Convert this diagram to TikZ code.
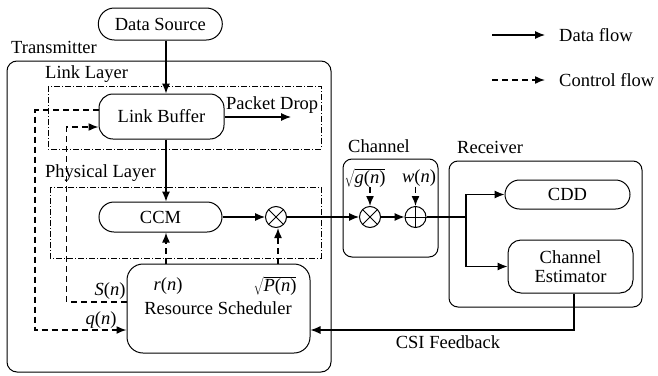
\documentclass[tikz,border=0pt]{standalone}
\usepackage{fontspec}
\setmainfont{LiberationSerif}[Extension=.ttf,UprightFont=*-Regular,ItalicFont=*-Italic,BoldFont=*-Bold,BoldItalicFont=*-BoldItalic]
\usetikzlibrary{arrows.meta,shapes.misc,calc}

\tikzset{
  flow/.style={line width=1.1pt,-{Latex[length=10pt,width=8pt]}},
  ctrl/.style={line width=1.5pt,dash pattern=on 6pt off 4pt,-{Latex[length=10pt,width=8pt]}},
  pill/.style={draw,line width=1pt,rounded rectangle,inner sep=0pt},
  rbox/.style={draw,line width=1pt,rounded corners=14pt,inner sep=0pt,align=center},
  opcirc/.style={draw,line width=1pt,circle,minimum size=21pt,inner sep=0pt},
  frame/.style={draw,line width=1pt,rounded corners=10pt},
  layer/.style={draw,line width=0.7pt,dash pattern=on 6pt off 2pt on 1pt off 2pt},
  lbl/.style={inner sep=0pt},
}

\begin{document}
\begin{tikzpicture}[x=1pt,y=-1pt,font=\fontsize{18.5}{21}\selectfont]
\useasboundingbox (0,0) rectangle (658,375);

% enclosing frames
\draw[frame] (7,61) rectangle (331,372);
\draw[frame,rounded corners=9pt] (343,159) rectangle (438,257);
\draw[frame,rounded corners=9pt] (449,161) rectangle (642,307);
\draw[layer] (48,86) rectangle (321,149);
\draw[layer] (50,187) rectangle (321,258);

% frame titles
\node[lbl,anchor=west] (ttx) at (11,47) {Transmitter};
\node[lbl,anchor=west] (tll) at (45,74) {Link Layer};
\node[lbl,anchor=west] (tpl) at (45,173) {Physical Layer};
\node[lbl,anchor=west] (tch) at (348,146) {Channel};
\node[lbl,anchor=west] (trx) at (457,147) {Receiver};

% blocks
\node[pill,minimum width=124pt,minimum height=32pt] (ds) at (160.3,24) {Data Source};
\node[rbox,minimum width=125pt,minimum height=45pt] (lb) at (161.5,116.5) {Link Buffer};
\node[pill,minimum width=123pt,minimum height=30pt] (ccm) at (160.5,217) {CCM};
\node[opcirc] (mul) at (276,217) {};
\draw[line width=0.8pt] ($(mul)+(-7.4,-7.4)$) -- ($(mul)+(7.4,7.4)$) ($(mul)+(-7.4,7.4)$) -- ($(mul)+(7.4,-7.4)$);
\node[rbox,rounded corners=16pt,minimum width=183pt,minimum height=89pt] (rs) at (218.5,308.5) {};
\node[lbl] (rst) at (218,308) {Resource Scheduler};
\node[lbl] (rn) at (168,286) {\textit{r}(\textit{n})};
\node[lbl] (pn) at (275,286) {$\sqrt{\mbox{\textit{P}(\textit{n})}}$};
\node[lbl] (sn) at (110,291) {\textit{S}(\textit{n})};
\node[lbl] (qn) at (101,320) {\textit{q}(\textit{n})};

% channel
\node[opcirc] (chmul) at (370,217) {};
\draw[line width=0.8pt] ($(chmul)+(-7.4,-7.4)$) -- ($(chmul)+(7.4,7.4)$) ($(chmul)+(-7.4,7.4)$) -- ($(chmul)+(7.4,-7.4)$);
\node[opcirc] (chadd) at (415.5,217) {};
\draw[line width=0.8pt] (chadd.north) -- (chadd.south) (chadd.west) -- (chadd.east);
\node[lbl] (gn) at (365,178) {$\sqrt{\mbox{\textit{g}(\textit{n})}}$};
\node[lbl] (wn) at (419,178) {\textit{w}(\textit{n})};

% receiver
\node[pill,minimum width=125pt,minimum height=29pt] (cdd) at (567.5,194.5) {CDD};
\node[rbox,rounded corners=13pt,minimum width=125pt,minimum height=53pt] (ce) at (570.5,266.5) {Channel\\[-2pt]Estimator};
\node[lbl] (csi) at (448,342) {CSI Feedback};

% helper points
\coordinate (col) at (166,0);
\coordinate (pd) at (291,117);
\coordinate (split) at (466,217);
\coordinate (qc) at (35,330);
\coordinate (sc) at (66.7,302);
\node[lbl,anchor=west] (pdt) at (226,105) {Packet Drop};

% data flow
\draw[flow] (ds.south -| col) -- (lb.north -| col);
\draw[flow] (lb.south -| col) -- (ccm.north -| col);
\draw[flow] ([yshift=-0.5pt]lb.east) -- (pd);
\draw[flow] (ccm.east) -- (mul.west);
\draw[flow] (mul.east) -- (chmul.west);
\draw[flow] (chmul.east) -- (chadd.west);
\draw[line width=1.1pt] (chadd.east) -- (split);
\draw[flow] (split) |- (cdd.west);
\draw[flow] (split) |- (ce.west);
\draw[flow] ([xshift=3.5pt]ce.south) |- ([yshift=-21.5pt]rs.east);

% control flow
\draw[ctrl] (rs.north -| col) -- (ccm.south -| col);
\draw[ctrl] ([xshift=2pt]rs.north -| mul) -- ([xshift=2pt]mul.south);
\draw[ctrl] (gn.south -| chmul) -- (chmul.north);
\draw[ctrl] (wn.south -| chadd) -- (chadd.north);
\draw[ctrl] ([yshift=6.5pt]lb.west) -| (qc) -- ([yshift=-21.5pt]rs.west);
\draw[ctrl] ([yshift=6.5pt]rs.west) -- (sc) |- ([yshift=-10.5pt]lb.west);

% legend
\coordinate (la1) at (492,35);
\coordinate (la2) at (545,35);
\coordinate (lc1) at (492,80);
\coordinate (lc2) at (545,80);
\draw[flow] (la1) -- (la2);
\draw[ctrl] (lc1) -- (lc2);
\node[lbl,anchor=west] (ldf) at (559,35) {Data flow};
\node[lbl,anchor=west] (lcf) at (559,80) {Control flow};
\end{tikzpicture}
\end{document}
